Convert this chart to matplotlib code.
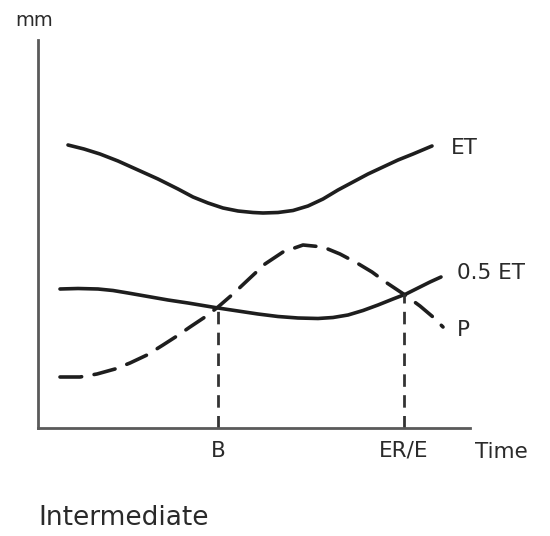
import matplotlib
matplotlib.use("Agg")
import matplotlib.pyplot as plt

# curves (x = time units, y = mm units, origin at axes corner)
et_x = [30, 46, 62, 80, 100, 120, 140, 155, 170, 185, 200, 215, 225, 240, 255, 270, 285, 300,
        315, 330, 345, 360, 375, 394]
et_y = [283, 279, 274, 267, 258, 249, 239, 231, 225, 220, 217, 215.5, 215, 215.5, 217.5, 222,
        229, 238, 246, 254, 261, 268, 274, 282]

half_et_x = [22, 40, 60, 75, 90, 110, 130, 150, 180, 200, 220, 240, 260, 280, 295, 310, 325,
             340, 355, 368, 380, 392, 403]
half_et_y = [139, 139.5, 139, 137.5, 135, 131.5, 128, 125, 120, 117, 114, 111.5, 110, 109.5,
             110.5, 113, 117.5, 123, 129, 134, 140, 146, 151]

p_x = [22, 42, 59, 77, 92, 109, 125, 139, 152, 167, 180, 195, 212, 227, 245, 265, 285, 302,
       319, 334, 349, 367, 382, 395, 405]
p_y = [51, 51, 54, 59, 65, 73, 83, 92, 101, 111, 121, 134, 150, 164, 176, 183, 181, 174,
       165, 156, 145, 133, 122, 111, 101]

b_x = 180
b_top = 121
ere_x = 366
ere_top = 134

x_max = 432
y_max = 388

ink = "#1e1e1e"
txt = "#2a2a2a"

fig = plt.figure(figsize=(5.5, 5.36), dpi=100)
ax = fig.add_axes([38 / 550, (536 - 428) / 536, (470 - 38) / 550, (428 - 40) / 536])
ax.set_xlim(0, x_max)
ax.set_ylim(0, y_max)

for side in ["top", "right"]:
    ax.spines[side].set_visible(False)
for side in ["left", "bottom"]:
    ax.spines[side].set_color("#5a5a5a")
    ax.spines[side].set_linewidth(2.0)
ax.set_xticks([])
ax.set_yticks([])

ax.plot(et_x, et_y, color=ink, lw=2.6, solid_capstyle="round", solid_joinstyle="round")
ax.plot(half_et_x, half_et_y, color=ink, lw=2.6, solid_capstyle="round", solid_joinstyle="round")
ax.plot(p_x, p_y, color=ink, lw=2.6, dashes=(6, 3.5), dash_capstyle="round",
        dash_joinstyle="round")

ax.plot([b_x, b_x], [0, b_top], color="#333333", lw=2.0, dashes=(4.5, 3))
ax.plot([ere_x, ere_x], [0, ere_top], color="#333333", lw=2.0, dashes=(4.5, 3))

tk = dict(color=txt, fontsize=15.5, clip_on=False)
ax.text(b_x, -23, "B", ha="center", va="center", **tk)
ax.text(ere_x, -23, "ER/E", ha="center", va="center", **tk)
ax.text(437, -24, "Time", ha="left", va="center", **tk)
ax.text(-23, 408, "mm", ha="left", va="center", color=txt, fontsize=14, clip_on=False)

ax.text(413, 280, "ET", ha="left", va="center", **tk)
ax.text(419, 155, "0.5 ET", ha="left", va="center", **tk)
ax.text(419, 98, "P", ha="left", va="center", **tk)

fig.text(38 / 550, 1 - 518 / 536, "Intermediate", ha="left", va="center",
         color=txt, fontsize=19)

fig.savefig("out.png", dpi=100, facecolor="white")
